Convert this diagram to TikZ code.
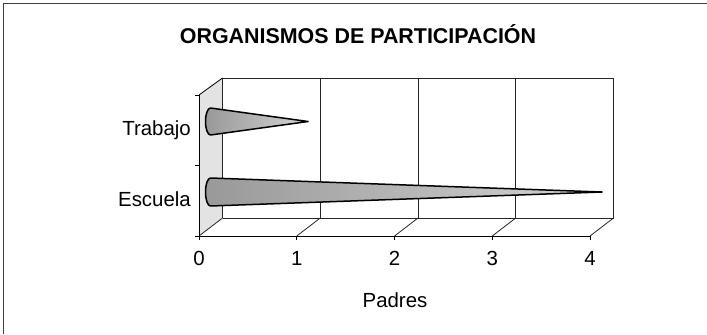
\documentclass[tikz,border=0pt]{standalone}
\usepackage{fontspec}
\setmainfont{Liberation Sans}
\begin{document}
\begin{tikzpicture}[x=1bp,y=-1bp,
  axisline/.style={draw=black,line width=0.8bp},
  gridline/.style={draw=black!85,line width=0.8bp},
  conebody/.style={left color=gray!80,right color=gray!35,draw=black,line width=1.5bp,line join=round},
  lbl/.style={font=\fontsize{20.5}{24}\selectfont,inner sep=0pt},
  ]
\useasboundingbox (0,0) rectangle (707,334);
% page frame (top and left edges visible)
\draw[black!75,line width=0.8bp] (3,334) -- (3,3) -- (707,3);
% title
\node[lbl,font=\bfseries\fontsize{21.5}{25}\selectfont,anchor=base] (title) at (358,43) {ORGANISMOS DE PARTICIPACIÓN};
% left wall
\fill[gray!22] (199,95) -- (222.5,78) -- (222.5,218) -- (199,236) -- cycle;
% back wall
\draw[gridline] (222.5,218) -- (222.5,78) -- (613.5,78) -- (613.5,218);
\foreach \i in {1,2,3} {
  \draw[gridline] ({222.5+97.75*\i},78) -- ({222.5+97.75*\i},218);
}
% floor
\draw[gridline] (222.5,218) -- (613.5,218);
\foreach \i in {0,...,4} {
  \draw[gridline] ({199+97.75*\i},236) -- ({222.5+97.75*\i},218);
  \draw[axisline] ({199+97.75*\i},236) -- ({199+97.75*\i},240);
}
% front axes
\draw[axisline] (199,95) -- (222.5,78);
\draw[axisline] (199,95) -- (199,236) -- (590,236);
\foreach \y in {95,165.5,236} {
  \draw[axisline] (195,\y) -- (199,\y);
}
% cones
\draw[conebody] (308,121.5) -- (210.5,108) arc[start angle=-90,end angle=-270,x radius=5,y radius=13.5] -- cycle;
\draw[conebody] (602,192) -- (210.5,178) arc[start angle=-90,end angle=-270,x radius=5,y radius=14] -- cycle;
% category labels
\node[lbl,anchor=base east] (trabajo) at (191,135.5) {Trabajo};
\node[lbl,anchor=base east] (escuela) at (191,206.5) {Escuela};
% value labels
\foreach \i in {0,...,4} {
  \node[lbl,anchor=base] (t\i) at ({199+97.75*\i},265.5) {\i};
}
\node[lbl,anchor=base] (padres) at (395,307) {Padres};
\end{tikzpicture}
\end{document}
